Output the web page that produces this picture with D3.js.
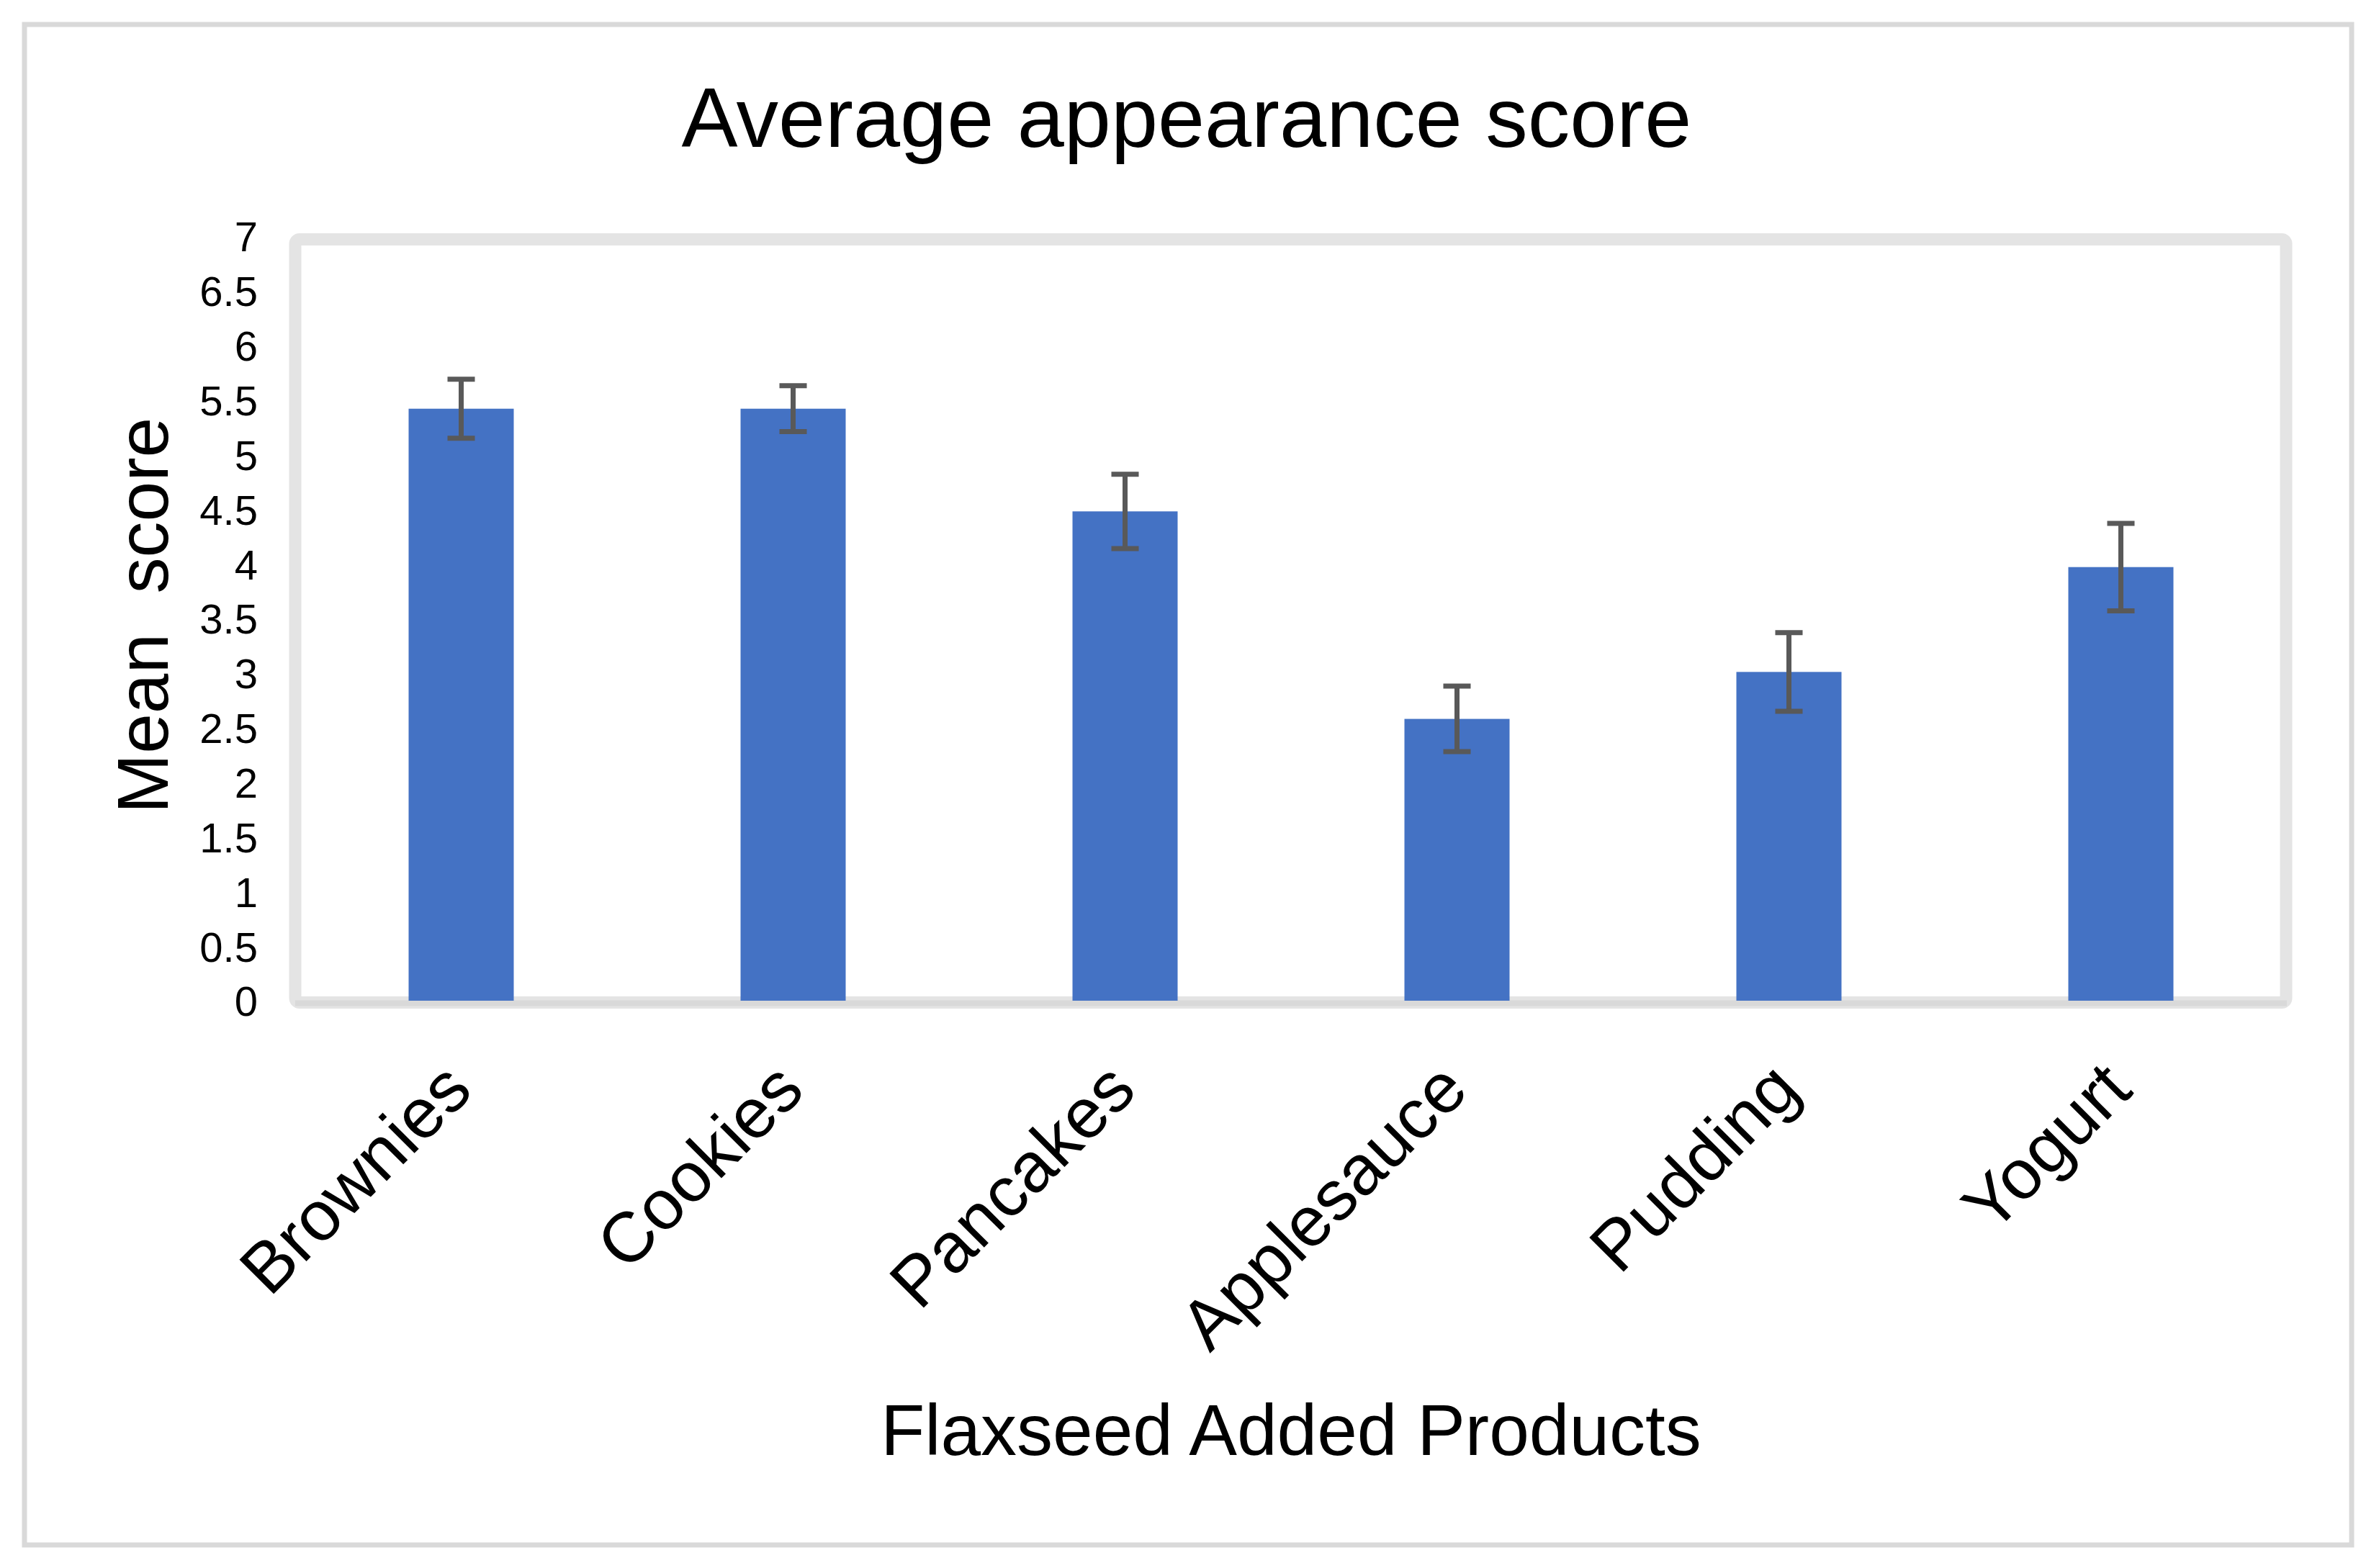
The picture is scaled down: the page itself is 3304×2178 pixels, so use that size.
<!DOCTYPE html>
<html>
<head>
<meta charset="utf-8">
<script src="https://cdn.jsdelivr.net/npm/d3@7"></script>
<style>
  html, body { margin: 0; padding: 0; background: #ffffff; }
  svg { display: block; }
  text { font-family: "Liberation Sans", Arial, sans-serif; fill: #000000; }
</style>
</head>
<body>
<svg id="chart" width="3304" height="2178"></svg>
<script>
// ---- data ----
const categories = ["Brownies", "Cookies", "Pancakes", "Applesauce", "Pudding", "Yogurt"];
const meanScores = [5.42, 5.42, 4.48, 2.58, 3.01, 3.97];
const errors     = [0.27, 0.21, 0.34, 0.30, 0.36, 0.40];
const yTicks     = [0, 0.5, 1, 1.5, 2, 2.5, 3, 3.5, 4, 4.5, 5, 5.5, 6, 6.5, 7];
const titleText  = "Average appearance score";
const xTitleText = "Flaxseed Added Products";
const yTitleText = "Mean  score";

// ---- layout ----
const W = 3304, H = 2178;
const svg = d3.select("#chart");

svg.append("rect").attr("x", 0).attr("y", 0).attr("width", W).attr("height", H).attr("fill", "#ffffff");

// outer border
svg.append("rect")
  .attr("x", 34).attr("y", 34).attr("width", 3232).attr("height", 2112)
  .attr("fill", "none").attr("stroke", "#d9d9d9").attr("stroke-width", 7);

// plot frame
svg.append("rect")
  .attr("x", 410).attr("y", 332.5).attr("width", 2765).attr("height", 1060)
  .attr("rx", 6).attr("ry", 6)
  .attr("fill", "#ffffff").attr("stroke", "#e4e4e4").attr("stroke-width", 17);

const x = d3.scaleBand().domain(categories).range([410, 3176]).paddingInner(0).paddingOuter(0);
const y = d3.scaleLinear().domain([0, 7]).range([1390, 328]);
const barW = 146;

// x axis line
svg.append("line")
  .attr("x1", x.range()[0]).attr("x2", x.range()[1])
  .attr("y1", y(0) + 3.5).attr("y2", y(0) + 3.5)
  .attr("stroke", "#d9d9d9").attr("stroke-width", 8);

// bars
const data = categories.map((c, i) => ({ c, v: meanScores[i], e: errors[i] }));
svg.append("g").selectAll("rect").data(data).join("rect")
  .attr("x", d => x(d.c) + x.bandwidth() / 2 - barW / 2)
  .attr("y", d => y(d.v))
  .attr("width", barW)
  .attr("height", d => y(0) - y(d.v))
  .attr("fill", "#4472c4");

// error bars
const eg = svg.append("g").attr("stroke", "#595959").attr("stroke-width", 7).attr("fill", "none");
const capW = 38;
data.forEach(d => {
  const cx = x(d.c) + x.bandwidth() / 2;
  eg.append("line").attr("x1", cx).attr("x2", cx).attr("y1", y(d.v + d.e)).attr("y2", y(d.v - d.e));
  eg.append("line").attr("x1", cx - capW / 2).attr("x2", cx + capW / 2).attr("y1", y(d.v + d.e)).attr("y2", y(d.v + d.e));
  eg.append("line").attr("x1", cx - capW / 2).attr("x2", cx + capW / 2).attr("y1", y(d.v - d.e)).attr("y2", y(d.v - d.e));
});

// y axis (labels only)
const yAxis = d3.axisLeft(y).tickValues(yTicks).tickSize(0).tickPadding(0).tickFormat(d3.format("~g"));
const yg = svg.append("g").attr("transform", "translate(358,0)").call(yAxis);
yg.select(".domain").remove();
yg.selectAll("text")
  .attr("font-size", 58)
  .attr("font-family", "'Liberation Sans', Arial, sans-serif")
  .attr("fill", "#000")
  .attr("x", 0)
  .attr("dy", "0.36em");

// category labels
const xAxis = d3.axisBottom(x).tickSize(0).tickPadding(0);
const xg = svg.append("g").attr("transform", "translate(0,0)").call(xAxis);
xg.select(".domain").remove();
xg.selectAll(".tick").attr("transform", d => `translate(${x(d) + x.bandwidth() / 2 + 19},1518)`);
xg.selectAll("text")
  .attr("font-size", 98)
  .attr("font-family", "'Liberation Sans', Arial, sans-serif")
  .attr("fill", "#000")
  .attr("y", 0).attr("dy", 0)
  .attr("text-anchor", "end")
  .attr("transform", "rotate(-45)");

// title
svg.append("text")
  .attr("x", 1648).attr("y", 204)
  .attr("text-anchor", "middle")
  .attr("font-size", 117)
  .text(titleText);

// x title
svg.append("text")
  .attr("x", 1793).attr("y", 2021)
  .attr("text-anchor", "middle")
  .attr("font-size", 100)
  .text(xTitleText);

// y title
svg.append("text")
  .attr("transform", "translate(233,855) rotate(-90)")
  .attr("text-anchor", "middle")
  .attr("font-size", 100)
  .attr("xml:space", "preserve")
  .style("white-space", "pre")
  .text(yTitleText);
</script>
</body>
</html>
